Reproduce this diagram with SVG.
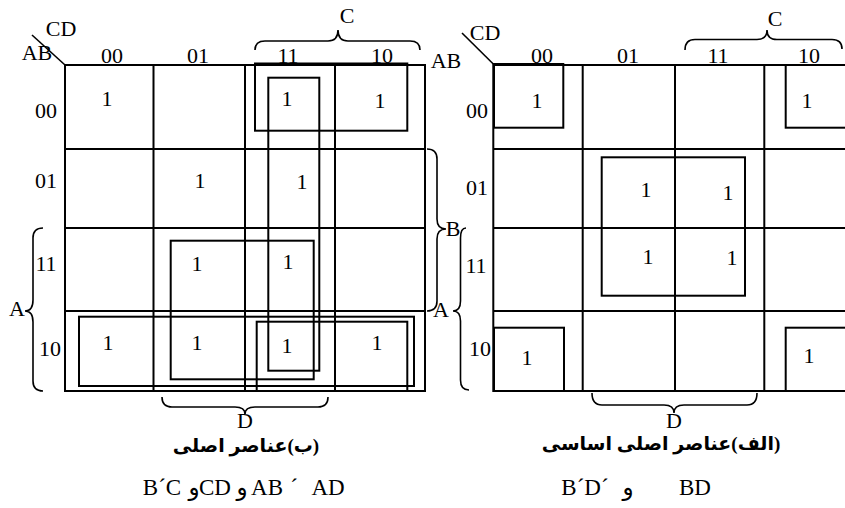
<svg xmlns="http://www.w3.org/2000/svg" width="845" height="508" viewBox="0 0 845 508">
<style>
.g{fill:none;stroke:#000;stroke-width:2}
.r{fill:none;stroke:#000;stroke-width:2}
.b{fill:none;stroke:#000;stroke-width:1.6}
.t{font-family:'Liberation Serif','Times New Roman',serif;font-size:22px;fill:#000;text-anchor:middle}
.c{font-family:'Liberation Serif','DejaVu Sans',serif;font-size:19px;fill:#000;text-anchor:middle;font-weight:bold;direction:rtl;unicode-bidi:embed}
.s{font-family:'Liberation Serif','DejaVu Sans',serif;font-size:23px;fill:#000;text-anchor:middle}
</style>
<rect width="845" height="508" fill="#fff"/>

<g id="map-b">
  <g id="grid-b">
    <rect class="g" x="65" y="65" width="360" height="326"/>
    <path class="g" d="M153.5 65V391M245 65V391M335 65V391M65 149H425M65 228H425M65 311H425"/>
    <line class="b" x1="32" y1="35" x2="65" y2="65"/>
  </g>
  <g id="labels-b" class="t">
    <text x="61" y="36">CD</text>
    <text x="37" y="60">AB</text>
    <text x="112" y="63">00</text>
    <text x="198" y="63">01</text>
    <text x="288" y="63">11</text>
    <text x="382" y="63">10</text>
    <text x="46" y="118">00</text>
    <text x="46" y="188">01</text>
    <text x="46" y="271">11</text>
    <text x="50" y="356">10</text>
    <text x="347" y="23">C</text>
    <text x="453" y="236">B</text>
    <text x="17" y="316">A</text>
    <text x="245" y="428">D</text>
  </g>
  <g id="ones-b" class="t">
    <text x="107" y="106">1</text>
    <text x="287" y="106">1</text>
    <text x="380" y="108">1</text>
    <text x="200" y="188">1</text>
    <text x="302" y="189">1</text>
    <text x="197" y="271">1</text>
    <text x="288" y="269">1</text>
    <text x="108" y="350">1</text>
    <text x="197" y="350">1</text>
    <text x="287" y="353">1</text>
    <text x="377" y="350">1</text>
  </g>
  <g id="groups-b">
    <rect class="r" x="255" y="63.5" width="152.3" height="67.2"/>
    <rect class="r" x="268.3" y="77.7" width="51" height="293"/>
    <rect class="r" x="170.7" y="240.7" width="143" height="138.6"/>
    <rect class="r" x="79" y="316.7" width="335" height="69.3"/>
    <rect class="r" x="256.7" y="321.7" width="150.6" height="69.3"/>
  </g>
  <g id="braces-b">
    <path class="b" d="M255 50Q255 41 265 41L328 41Q338 41 338 30Q338 41 348 41L410 41Q420 41 420 50"/>
    <path class="b" d="M427 149Q437 149 437 159L437 219Q437 229 446 229Q437 229 437 239L437 301Q437 311 427 311"/>
    <path class="b" d="M43 228Q33 228 33 238L33 300Q33 311 25 311Q33 311 33 322L33 381Q33 391 43 391"/>
    <path class="b" d="M162 397Q162 407 172 407L235 407Q245 407 245 414Q245 407 255 407L318 407Q328 407 328 397"/>
  </g>
  <text id="caption-b" class="c" x="246" y="452" direction="rtl">&#x200F;(ب)عناصر اصلی</text>
  <g id="terms-b" class="s">
    <text x="162" y="495">B´C</text>
    <text x="194" y="495">و</text>
    <text x="215" y="495">CD</text>
    <text x="242" y="495">و</text>
    <text x="267" y="495">AB</text>
    <text x="294" y="495">´</text>
    <text x="328" y="495">AD</text>
  </g>
</g>

<g id="map-a">
  <g id="grid-a">
    <rect class="g" x="493.3" y="65" width="365" height="326"/>
    <path class="g" d="M582.7 65V391M675 65V391M764.3 65V391M493.3 149H845M493.3 228H845M493.3 311H845"/>
    <line class="b" x1="462" y1="33" x2="493.3" y2="64"/>
  </g>
  <g id="labels-a" class="t">
    <text x="485" y="40">CD</text>
    <text x="446" y="68">AB</text>
    <text x="542" y="63">00</text>
    <text x="628" y="63">01</text>
    <text x="718" y="63">11</text>
    <text x="809" y="63">10</text>
    <text x="477" y="118">00</text>
    <text x="477" y="195">01</text>
    <text x="476" y="273">11</text>
    <text x="480" y="356">10</text>
    <text x="775" y="26">C</text>
    <text x="441" y="317">A</text>
    <text x="674" y="428">D</text>
  </g>
  <g id="ones-a" class="t">
    <text x="537" y="108">1</text>
    <text x="807" y="108">1</text>
    <text x="646" y="197">1</text>
    <text x="728" y="200">1</text>
    <text x="648" y="264">1</text>
    <text x="732" y="265">1</text>
    <text x="527" y="365">1</text>
    <text x="809" y="363">1</text>
  </g>
  <g id="groups-a">
    <rect class="r" x="494" y="64" width="69.3" height="63.7"/>
    <rect class="r" x="785.7" y="65" width="80" height="62.7"/>
    <rect class="r" x="601.7" y="157.3" width="143.3" height="138.4"/>
    <rect class="r" x="494" y="327.7" width="70" height="63.3"/>
    <rect class="r" x="785.7" y="327.7" width="80" height="63.3"/>
  </g>
  <g id="braces-a">
    <path class="b" d="M685 50Q685 39.5 695 39.5L757 39.5Q767 39.5 767 30Q767 39.5 777 39.5L832 39.5Q842 39.5 842 49"/>
    <path class="b" d="M466 228Q460.5 228 460.5 238L460.5 301Q460.5 311 453 311Q460.5 311 460.5 321L460.5 380Q460.5 390 469 390"/>
    <path class="b" d="M592 393Q592 405 602 405L664 405Q674 405 674 413Q674 405 684 405L747 405Q757 405 757 393"/>
  </g>
  <text id="caption-a" class="c" x="661" y="450" direction="rtl">&#x200F;(الف)عناصر اصلی اساسی</text>
  <g id="terms-a" class="s">
    <text x="585" y="495">B´D´</text>
    <text x="628" y="495">و</text>
    <text x="695" y="495">BD</text>
  </g>
</g>
</svg>
